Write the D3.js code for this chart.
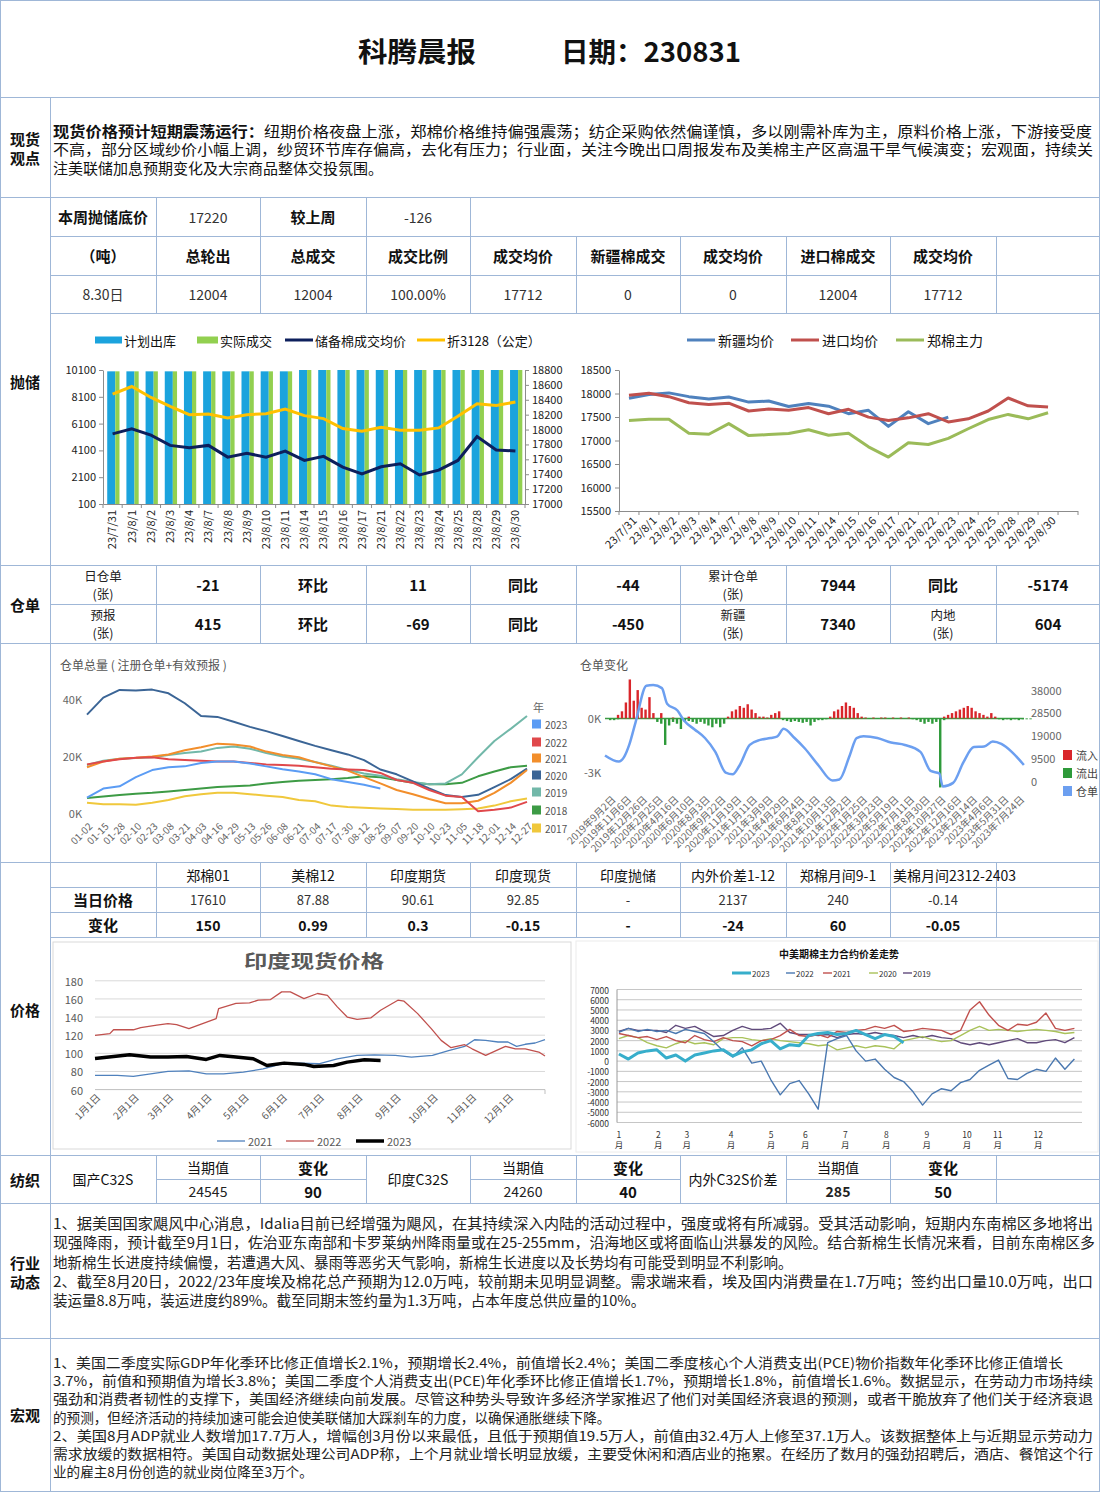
<!DOCTYPE html>
<html>
<head>
<meta charset="utf-8">
<title>科腾晨报 230831</title>
<script src="https://cdn.jsdelivr.net/npm/d3@7/dist/d3.min.js"></script>
<style>
  body { margin: 0; background: #fff; }
  svg text { font-family: "Noto Sans CJK SC", "Noto Sans", sans-serif; }
</style>
</head>
<body>
<script>
// ---------- data ----------
var reserveDates = ["23/7/31","23/8/1","23/8/2","23/8/3","23/8/4","23/8/7","23/8/8","23/8/9","23/8/10","23/8/11","23/8/14",
  "23/8/15","23/8/16","23/8/17","23/8/21","23/8/22","23/8/23","23/8/24","23/8/25","23/8/28","23/8/29","23/8/30"];
var planOut = [10000,10000,10000,10000,10000,10000,10000,10000,10000,10000,12000,12000,12000,12000,12000,12000,12000,12000,12000,12000,12000,12004];
var actualDeal = [10000,10000,10000,10000,10000,10000,10000,10000,10000,10000,12000,12000,12000,12000,12000,12000,12000,12000,12000,12000,12000,12004];
var reserveAvg = [17942,18009,17925,17787,17755,17787,17630,17680,17630,17710,17585,17640,17495,17405,17500,17540,17390,17455,17585,17905,17725,17712];
var zhe3128 = [18476,18578,18431,18311,18200,18209,18155,18200,18213,18275,18187,18147,18013,17978,18031,17991,17991,18022,18178,18347,18324,18369];

var xjAvg = [17897,17977,18013,17933,17882,17926,17817,17839,17722,17788,17730,17570,17642,17300,17613,17359,17497,null,null,null,null,null];
var importAvg = [17962,18006,17933,17802,17766,17795,17628,17671,17642,17700,17570,17664,17497,17424,17482,17570,17395,17461,17628,17904,17737,17715];
var zcMain = [17424,17453,17453,17155,17133,17359,17104,17126,17148,17228,17112,17155,16865,16647,16952,16916,17046,17250,17446,17555,17461,17591];

var whTicks = ["01-02","01-15","01-28","02-10","02-23","03-08","03-21","04-03","04-16","04-29","05-13","05-26","06-08","06-21",
  "07-04","07-17","07-30","08-12","08-25","09-07","09-20","10-10","10-23","11-05","11-18","12-01","12-14","12-27"];
var whYears = ["2023","2022","2021","2020","2019","2018","2017"];
var wh2023 = [5.3,8.5,9.3,12.5,15,16,16.3,17.5,18,18,17.3,16.3,15.3,14.5,13.5,11.8,10.8,9.8,8.5];
var wh2022 = [17,18,18.8,19.3,19.5,18.8,18.5,18.3,18,18,17.5,17,16.8,16.5,16,15.5,15.2,15,14,11.5,10.5,8,6,5.5,0.5,1,1.8,3.8];
var wh2021 = [16,18,19,19.3,19.8,20.5,22,23,24.3,24,23.3,21.5,20.3,19.5,17.8,16.3,14.8,12.5,10.3,8,6.5,4.8,3.3,3.3,4.2,7,10.5,15];
var wh2020 = [34.5,40.5,43.2,43,43.3,42,38.5,34,33.7,32,30.2,28.7,27,25.2,23.5,22,20.5,18.5,15.2,13.5,11,8.5,6.2,5.5,6.3,9,11.8,15.5];
var wh2019 = [16.8,18.3,19,19.2,19.5,20.3,21,21.5,22.8,23.3,22.5,21,19.8,19,17.8,16.5,15,13.8,13,11.8,10.8,10,10.3,13.5,19.5,25.2,29.5,34];
var wh2018 = [5.2,5.7,6.2,6.7,7,7.5,8,8.5,9,9.3,9.6,10.3,10.8,11.2,11.5,11.8,12.2,12.8,12.5,11.5,10.5,10,10,10.5,12.8,14.5,16,16.5];
var wh2017 = [3.5,3,3,2.8,3.5,4.5,5.8,6.5,7,7,6.5,6,5.5,4.5,4,2.5,2,1.7,1.5,1.3,1,1,1,1.2,1.5,2.5,4,5];

var chgLabels = ["2019年9月2日","2019年11月6日","2019年12月26日","2020年2月25日","2020年4月16日","2020年6月10日","2020年8月3日",
  "2020年9月22日","2020年11月19日","2021年1月11日","2021年3月9日","2021年4月29日","2021年6月24日","2021年8月13日",
  "2021年10月13日","2021年12月2日","2022年1月25日","2022年3月23日","2022年5月19日","2022年7月11日","2022年8月30日",
  "2022年10月27日","2022年12月16日","2023年2月14日","2023年4月6日","2023年5月31日","2023年7月24日"];
// daily flows sampled every quarter label step (K)
var flowIn = [0,0,0.2,0.4,0.9,2.2,1.0,1.6,0.6,0.5,1.2,0.3,
  0,0.3,0,0,0.05,0,0,0,0.1,0,0,0,
  0,0,0,0,0,0,0.1,0.4,0.5,0.7,0.6,0.8,
  0.5,0.3,0.1,0.1,0.05,0.2,0.3,0.4,0,0,0,0,
  0,0,0,0,0,0,0,0,0.1,0.4,0.5,0.7,
  0.9,0.7,0.6,0.3,0.1,0.05,0,0.05,0,0.05,0.05,0,
  0.05,0,0.05,0,0.05,0,0,0,0,0,0,0,
  0,0.1,0.2,0.3,0.4,0.5,0.6,0.7,0.6,0.4,0.3,0.2,
  0.1,0.3,0.1,0,0,0,0,0,0,0,0,0];
var flowOut = [-0.1,-0.1,-0.05,0,0,0,0,0,0,0,0,0,
  -0.2,-0.3,-1.5,-0.4,-0.2,-0.3,-0.6,-0.2,-0.15,-0.2,-0.3,-0.2,
  -0.3,-0.4,-0.5,-0.3,-0.5,-0.3,0,0,0,0,0,0,
  0,0,0,0,0,0,0,0,-0.1,-0.15,-0.2,-0.15,
  -0.2,-0.25,-0.2,-0.4,-0.2,-0.1,-0.1,-0.05,0,0,0,0,
  0,0,0,0,0,0,-0.03,0,-0.03,0,0,-0.03,
  0,-0.03,0,0,0,-0.05,-0.1,-0.2,-0.3,-0.2,-0.3,-0.2,
  -3.9,-0.1,0,0,0,0,0,0,0,0,0,0,
  0,0,0,-0.05,-0.1,-0.05,-0.1,-0.05,-0.1,-0.05,-0.05,-0.05];
var stockIdx = [-0.33,0.55,0.88,1.21,1.64,2.3,2.74,3.29,3.62,4.28,4.71,5.37,6.03,6.69,7.35,7.79,8.22,8.88,9.54,10.2,
  10.64,11.03,11.73,12.39,13.27,14.14,14.58,15.24,15.68,16.12,17.0,17.87,18.75,19.74,20.39,20.94,21.16,21.82,22.48,23.14,
  23.79,24.34,24.89,25.55,26.32];
var stockVal = [10500,7950,9800,14900,25000,39700,40000,38700,32200,29300,25000,21400,17800,12000,3300,2600,6200,14900,17000,17800,
  18500,21700,17800,13400,6200,0,400,10500,17800,18500,17800,15900,14900,12000,4000,3000,-2500,-1000,7700,14000,
  14200,16300,15300,12000,6500];

var indiaMonths = ["1月1日","2月1日","3月1日","4月1日","5月1日","6月1日","7月1日","8月1日","9月1日","10月1日","11月1日","12月1日"];
var india2021Dates = ["01-01","01-19","02-01","02-15","03-01","03-18","04-01","04-15","05-01","05-17","06-01","06-16","07-01","07-16",
  "08-01","08-15","09-01","09-14","10-01","10-14","10-27","11-04","11-13","11-23","12-01","12-08","12-15","12-23","12-31"];
var india2021 = [75.6,75.6,74.5,77.4,80,80.7,77.4,77.4,79.2,82.9,88.5,89.2,88.5,94,97.7,98.4,97.7,95.9,97.7,103,107.7,115,114.3,112.5,112.5,107.7,110,111.4,115];
var india2022Dates = ["01-01","01-13","01-16","02-01","02-07","02-20","03-01","03-08","03-18","03-29","04-09","04-11","04-25","05-06",
  "05-13","05-23","06-01","06-08","06-19","06-30","07-08","07-16","07-24","08-01","08-12","08-20","09-03","09-08","09-19","09-30",
  "10-08","10-16","10-27","11-02","11-13","11-29","12-07","12-15","12-26","12-31"];
var india2022 = [119.8,121.7,126,126,128.3,131,132.8,131.7,127.2,132.8,138.3,149.4,155,155.6,158.6,159.3,167.8,167.8,160.4,166,
  164,151.2,140,137.5,139,147.5,158.6,157.5,143.8,127.2,114.3,106.2,109.5,105,97.7,107.7,105,105,101.4,97];
var india2023Dates = ["01-01","01-16","01-29","02-15","03-01","03-16","04-01","04-12","04-25","05-09","05-20","06-03","06-19","06-27",
  "07-13","07-24","08-07","08-20"];
var india2023 = [94.4,96.6,98.5,95.9,95.9,96.6,93.3,97.7,95.9,94,86.6,89.2,87.8,85.5,86.6,90.3,92.9,92.2];

// China-US spread, one value every 5 trading days
var spreadStep = 5;
var spreadMonthPos = [0,20.8,35.8,59.1,80.2,98.2,119.3,140.9,162.2,183.4,199.6,220.9];
var spreadYears = ["2023","2022","2021","2020","2019"];
var spread2023 = [700,200,800,1000,1100,300,600,0,600,800,1000,1100,500,900,1100,1700,2000,1200,1600,1500,2500,2700,2800,2600,2700,3000,2600,2200,2600,2400,1800];
var spread2022 = [2800,3200,2900,3100,2900,3000,2700,3100,2900,2700,1900,1000,400,1300,-200,0,-1800,-3300,-2200,-1900,
  -3200,-4700,1800,2200,2500,1000,0,200,-800,-1600,-2000,-3000,-4300,-3200,-2700,-2900,-2100,-1800,-900,-400,
  100,-1700,-1800,-1200,-800,-1000,300,-800,200];
var spread2021 = [2700,2500,2300,2400,2100,2400,2000,1800,2500,2100,1900,2300,2000,1900,1500,2000,2100,2500,3100,2500,
  2400,2600,2300,2900,2800,3000,3100,3400,3200,3500,2900,3000,3200,3100,3000,2600,3000,5000,5800,4500,
  3500,3000,3600,3500,3800,4700,3200,3000,3200];
var spread2020 = [2200,2500,2300,1800,1500,1300,1700,2000,1700,1800,1600,2200,2300,2300,2100,2000,2200,2000,1900,1800,
  1700,1500,1600,1100,1300,1500,1300,1500,1400,1200,2000,2200,2400,2100,1900,2000,2500,3000,3400,3000,
  3100,3000,2900,3000,3100,3000,2900,2700,2800];
var spread2019 = [2900,3200,3000,3000,3000,2800,3500,3200,3400,2900,2400,2500,3000,3400,3100,3100,3200,3700,2800,2600,
  2600,2500,2600,2300,2600,2700,2600,2800,2600,2500,2300,2500,2300,2500,2300,2200,1800,1600,1800,1600,
  1800,2000,2200,1800,1800,2000,2100,1800,2300];

// table contents
var reserveHead = ["本周抛储底价","17220","较上周","-126"];
var reserveCols = ["（吨）","总轮出","总成交","成交比例","成交均价","新疆棉成交","成交均价","进口棉成交","成交均价"];
var reserveRow = ["8.30日","12004","12004","100.00%","17712","0","0","12004","17712"];
var whRow1 = ["日仓单\n(张)","-21","环比","11","同比","-44","累计仓单\n(张)","7944","同比","-5174"];
var whRow2 = ["预报\n(张)","415","环比","-69","同比","-450","新疆\n(张)","7340","内地\n(张)","604"];
var priceHead = ["","郑棉01","美棉12","印度期货","印度现货","印度抛储","内外价差1-12","郑棉月间9-1","美棉月间2312-2403"];
var priceToday = ["当日价格","17610","87.88","90.61","92.85","-","2137","240","-0.14"];
var priceChange = ["变化","150","0.99","0.3","-0.15","-","-24","60","-0.05"];
var yarnNames = ["国产C32S","印度C32S","内外C32S价差"];
var yarnValues = ["24545","24260","285"];
var yarnChanges = ["90","40","50"];

var viewLines = [
  "纽期价格夜盘上涨，郑棉价格维持偏强震荡；纺企采购依然偏谨慎，多以刚需补库为主，原料价格上涨，下游接受度",
  "不高，部分区域纱价小幅上调，纱贸环节库存偏高，去化有压力；行业面，关注今晚出口周报发布及美棉主产区高温干旱气候演变；宏观面，持续关",
  "注美联储加息预期变化及大宗商品整体交投氛围。"];
var industryLines = [
  "1、据美国国家飓风中心消息，Idalia目前已经增强为飓风，在其持续深入内陆的活动过程中，强度或将有所减弱。受其活动影响，短期内东南棉区多地将出",
  "现强降雨，预计截至9月1日，佐治亚东南部和卡罗莱纳州降雨量或在25-255mm，沿海地区或将面临山洪暴发的风险。结合新棉生长情况来看，目前东南棉区多",
  "地新棉生长进度持续偏慢，若遭遇大风、暴雨等恶劣天气影响，新棉生长进度以及长势均有可能受到明显不利影响。",
  "2、截至8月20日，2022/23年度埃及棉花总产预期为12.0万吨，较前期未见明显调整。需求端来看，埃及国内消费量在1.7万吨；签约出口量10.0万吨，出口",
  "装运量8.8万吨，装运进度约89%。截至同期末签约量为1.3万吨，占本年度总供应量的10%。"];
var macroLines = [
  "1、美国二季度实际GDP年化季环比修正值增长2.1%，预期增长2.4%，前值增长2.4%；美国二季度核心个人消费支出(PCE)物价指数年化季环比修正值增长",
  "3.7%，前值和预期值为增长3.8%；美国二季度个人消费支出(PCE)年化季环比修正值增长1.7%，预期增长1.8%，前值增长1.6%。数据显示，在劳动力市场持续",
  "强劲和消费者韧性的支撑下，美国经济继续向前发展。尽管这种势头导致许多经济学家推迟了他们对美国经济衰退的预测，或者干脆放弃了他们关于经济衰退",
  "的预测，但经济活动的持续加速可能会迫使美联储加大踩刹车的力度，以确保通胀继续下降。",
  "2、美国8月ADP就业人数增加17.7万人，增幅创3月份以来最低，且低于预期值19.5万人，前值由32.4万人上修至37.1万人。该数据整体上与近期显示劳动力",
  "需求放缓的数据相符。美国自动数据处理公司ADP称，上个月就业增长明显放缓，主要受休闲和酒店业的拖累。在经历了数月的强劲招聘后，酒店、餐馆这个行",
  "业的雇主8月份创造的就业岗位降至3万个。"];

// ---------- page ----------
var svg = d3.select("body").append("svg").attr("width", 1101).attr("height", 1492);
var LINE = "#9fb7d7";
var cols = [50,156,260,366,470,576,680,786,890,996,1100];
var plain = d3.format("d");

function txt(g, x, y, s, o) {
  o = o || {};
  var t = g.append("text").attr("x", x).attr("y", y).text(s)
    .attr("font-size", o.size || 14)
    .attr("font-weight", o.bold ? "bold" : "normal")
    .attr("fill", o.fill || "#111")
    .attr("text-anchor", o.anchor || "start")
    .attr("dominant-baseline", "central");
  if (o.len) t.attr("textLength", o.len).attr("lengthAdjust", "spacingAndGlyphs");
  return t;
}
function hline(x1, x2, y) {
  svg.append("line").attr("x1", x1).attr("x2", x2).attr("y1", y + 0.5).attr("y2", y + 0.5).attr("stroke", LINE);
}
function vline(x, y1, y2) {
  svg.append("line").attr("x1", x + 0.5).attr("x2", x + 0.5).attr("y1", y1).attr("y2", y2).attr("stroke", LINE);
}
function cell(i, y1, y2, s, o) {
  o = o || {};
  var x = (cols[i] + cols[i + 1]) / 2;
  var parts = String(s).split("\n");
  var lh = o.lh || 17;
  var y0 = (y1 + y2) / 2 - (parts.length - 1) * lh / 2;
  parts.forEach(function(p, k) {
    txt(svg, x, y0 + k * lh, p, Object.assign({anchor: "middle"}, o));
  });
}

// frame
svg.append("rect").attr("x", 0.5).attr("y", 0.5).attr("width", 1099).attr("height", 1491)
  .attr("fill", "none").attr("stroke", LINE);
[97,197,565,643,862,1155,1203,1338].forEach(function(y){ hline(0, 1100, y); });
vline(50, 97, 1492);
hline(50, 1100, 236); hline(50, 1100, 275); hline(50, 1100, 313);
[1,2,3,4].forEach(function(i){ vline(cols[i], 197, 236); });
d3.range(1, 10).forEach(function(i){ vline(cols[i], 236, 313); });
hline(50, 1100, 604);
d3.range(1, 10).forEach(function(i){ vline(cols[i], 565, 643); });
hline(50, 1100, 887); hline(50, 1100, 912); hline(50, 1100, 937);
d3.range(1, 10).forEach(function(i){ vline(cols[i], 862, 937); });
hline(156, 366, 1179); hline(470, 680, 1179); hline(786, 1100, 1179);
d3.range(1, 10).forEach(function(i){ vline(cols[i], 1155, 1203); });

// title
txt(svg, 358, 50, "科腾晨报", {size: 27, bold: true, len: 118, fill: "#111"});
txt(svg, 561, 50, "日期：230831", {size: 27, bold: true, len: 180, fill: "#111"});

// left labels
var leftLabels = [["现货", 138], ["观点", 157], ["抛储", 381], ["仓单", 604], ["价格", 1009],
  ["纺织", 1179], ["行业", 1262], ["动态", 1281], ["宏观", 1414]];
leftLabels.forEach(function(d){ txt(svg, 25, d[1], d[0], {size: 15, bold: true, anchor: "middle"}); });

// 现货观点
var v1 = txt(svg, 53, 130, "", {size: 15, len: 1039});
v1.append("tspan").attr("font-weight", "bold").text("现货价格预计短期震荡运行：");
v1.append("tspan").text(viewLines[0]);
txt(svg, 53, 148.5, viewLines[1], {size: 15, len: 1040});
txt(svg, 53, 167, viewLines[2], {size: 15});

// 抛储 table
reserveHead.forEach(function(s, i){ cell(i, 197, 236, s, {bold: i % 2 === 0, size: i % 2 === 0 ? 15 : 14, fill: i % 2 === 0 ? "#111" : "#333"}); });
reserveCols.forEach(function(s, i){ cell(i, 236, 275, s, {bold: true, size: 15}); });
reserveRow.forEach(function(s, i){ cell(i, 275, 313, s, {size: 14, fill: "#333"}); });

// 仓单 table
var whBold1 = [false,true,true,true,true,true,false,true,true,true];
var whBold2 = [false,true,true,true,true,true,false,true,false,true];
function whCell(row, y1, y2, bold) {
  row.forEach(function(s, i){
    var two = s.indexOf("\n") >= 0;
    cell(i, y1, y2, s, {bold: bold[i], size: two ? 12.5 : 15, lh: 18, fill: two ? "#222" : "#111"});
  });
}
whCell(whRow1, 565, 604, whBold1);
whCell(whRow2, 604, 643, whBold2);

// 价格 table
priceHead.forEach(function(s, i){
  if (i === 8) txt(svg, 893, 875, s, {size: 14});
  else cell(i, 862, 887, s, {size: 14});
});
priceToday.forEach(function(s, i){ cell(i, 887, 912, s, {bold: i === 0, size: i === 0 ? 15 : 13, fill: i === 0 ? "#111" : "#333"}); });
priceChange.forEach(function(s, i){ cell(i, 912, 937, s, {bold: true, size: i === 0 ? 15 : 14}); });

// 纺织 table
yarnNames.forEach(function(s, k){
  cell(k * 3, 1155, 1203, s, {size: 14});
  cell(k * 3 + 1, 1155, 1179, "当期值", {size: 14});
  cell(k * 3 + 2, 1155, 1179, "变化", {size: 15, bold: true});
  cell(k * 3 + 1, 1179, 1203, yarnValues[k], {size: 14, bold: k === 2, fill: "#222"});
  cell(k * 3 + 2, 1179, 1203, yarnChanges[k], {size: 15, bold: true});
});

// paragraphs
var indY = [1222, 1241, 1261, 1280, 1299];
var indFull = [1040, 1042, 0, 1040, 0];
industryLines.forEach(function(s, i){ txt(svg, 53, indY[i], s, {size: 14.5, len: indFull[i] || null, fill: "#222"}); });
var macY = [1362, 1380.2, 1398.4, 1416.6, 1434.8, 1453, 1471.2];
var macFull = [1010, 1040, 1040, 0, 1040, 1040, 0];
macroLines.forEach(function(s, i){ txt(svg, 53, macY[i], s, {size: 13.6, len: macFull[i] || null, fill: "#222"}); });

function styleAxis(a, size, color, stroke) {
  a.selectAll("path.domain").attr("stroke", stroke || "#8c8c8c");
  a.selectAll(".tick line").attr("stroke", stroke || "#8c8c8c");
  a.selectAll("text").attr("font-size", size).attr("fill", color);
}

// ---------- chart 1: 抛储 ----------
(function(){
  var g = svg.append("g");
  var x = d3.scaleBand().domain(reserveDates).range([103, 525]);
  var yL = d3.scaleLinear().domain([100, 10100]).range([504, 370]);
  var yR = d3.scaleLinear().domain([17000, 18800]).range([504, 370]);
  var bw = x.bandwidth();
  function top(v){ return yL(Math.min(v, 10100)); }
  g.selectAll(".plan").data(planOut).enter().append("rect")
    .attr("x", function(d, i){ return x(reserveDates[i]) + bw * 0.22; })
    .attr("width", bw * 0.42)
    .attr("y", top).attr("height", function(d){ return yL(100) - top(d); })
    .attr("fill", "#1ba3dd");
  g.selectAll(".deal").data(actualDeal).enter().append("rect")
    .attr("x", function(d, i){ return x(reserveDates[i]) + bw * 0.64; })
    .attr("width", bw * 0.22)
    .attr("y", top).attr("height", function(d){ return yL(100) - top(d); })
    .attr("fill", "#92d050");
  var cx = function(d, i){ return x(reserveDates[i]) + bw / 2; };
  g.append("path").datum(reserveAvg).attr("fill", "none").attr("stroke", "#0d1f5c").attr("stroke-width", 3)
    .attr("d", d3.line().x(cx).y(function(d){ return yR(d); }));
  g.append("path").datum(zhe3128).attr("fill", "none").attr("stroke", "#ffc000").attr("stroke-width", 3)
    .attr("d", d3.line().x(cx).y(function(d){ return yR(d); }));

  var aL = g.append("g").attr("transform", "translate(103,0)")
    .call(d3.axisLeft(yL).tickValues([100,2100,4100,6100,8100,10100]).tickFormat(plain).tickSize(4).tickSizeOuter(0).tickPadding(3));
  styleAxis(aL, 11, "#222");
  var aR = g.append("g").attr("transform", "translate(525,0)")
    .call(d3.axisRight(yR).tickValues(d3.range(17000, 18801, 200)).tickFormat(plain).tickSize(4).tickSizeOuter(0).tickPadding(3));
  styleAxis(aR, 11, "#222");
  var aB = g.append("g").attr("transform", "translate(0,504)")
    .call(d3.axisBottom(x).tickSize(0).tickSizeOuter(0));
  styleAxis(aB, 11, "#222");
  aB.selectAll("text").attr("transform", "rotate(-90)").attr("x", -6).attr("y", 0).attr("dy", "0.35em")
    .style("text-anchor", "end");
  g.selectAll(".bt").data(d3.range(reserveDates.length + 1)).enter().append("line")
    .attr("x1", function(i){ return 103 + i * x.step(); }).attr("x2", function(i){ return 103 + i * x.step(); })
    .attr("y1", 504).attr("y2", 508).attr("stroke", "#8c8c8c");

  // legend
  g.append("rect").attr("x", 95).attr("y", 336.5).attr("width", 27).attr("height", 7).attr("fill", "#1ba3dd");
  txt(g, 124, 340, "计划出库", {size: 13});
  g.append("rect").attr("x", 197).attr("y", 336.5).attr("width", 21).attr("height", 7).attr("fill", "#92d050");
  txt(g, 220, 340, "实际成交", {size: 13});
  g.append("line").attr("x1", 285).attr("x2", 313).attr("y1", 340).attr("y2", 340).attr("stroke", "#0d1f5c").attr("stroke-width", 3);
  txt(g, 315, 340, "储备棉成交均价", {size: 13});
  g.append("line").attr("x1", 417).attr("x2", 445).attr("y1", 340).attr("y2", 340).attr("stroke", "#ffc000").attr("stroke-width", 3);
  txt(g, 447, 340, "折3128（公定）", {size: 13});
})();

// ---------- chart 2: 现货价格 ----------
(function(){
  var g = svg.append("g");
  var x = d3.scaleBand().domain(d3.range(reserveDates.length + 1)).range([619, 1078]);
  var y = d3.scaleLinear().domain([15500, 18500]).range([511, 370]);
  var cx = function(d, i){ return x(i) + x.bandwidth() / 2; };
  var series = [[xjAvg, "#4f81bd"], [importAvg, "#c0504d"], [zcMain, "#9bbb59"]];
  series.forEach(function(s){
    g.append("path").datum(s[0]).attr("fill", "none").attr("stroke", s[1]).attr("stroke-width", 3)
      .attr("stroke-linejoin", "round")
      .attr("d", d3.line().defined(function(d){ return d !== null; }).x(cx).y(function(d){ return y(d); }));
  });
  var aL = g.append("g").attr("transform", "translate(619,0)")
    .call(d3.axisLeft(y).tickValues(d3.range(15500, 18501, 500)).tickFormat(plain).tickSize(4).tickSizeOuter(0).tickPadding(4));
  styleAxis(aL, 11, "#222");
  g.append("line").attr("x1", 619).attr("x2", 1078).attr("y1", 511.5).attr("y2", 511.5).attr("stroke", "#8c8c8c");
  g.selectAll(".bt").data(d3.range(reserveDates.length + 2)).enter().append("line")
    .attr("x1", function(i){ return 619 + i * x.step(); }).attr("x2", function(i){ return 619 + i * x.step(); })
    .attr("y1", 511).attr("y2", 515).attr("stroke", "#8c8c8c");
  g.selectAll(".xl").data(reserveDates).enter().append("text")
    .attr("transform", function(d, i){ return "translate(" + (cx(d, i) + 5) + ",518) rotate(-45)"; })
    .attr("text-anchor", "end").attr("dominant-baseline", "central")
    .attr("font-size", 11).attr("fill", "#222").text(function(d){ return d; });
  var leg = [["新疆均价", "#4f81bd", 687], ["进口均价", "#c0504d", 791], ["郑棉主力", "#9bbb59", 896]];
  leg.forEach(function(l){
    g.append("line").attr("x1", l[2]).attr("x2", l[2] + 28).attr("y1", 340).attr("y2", 340)
      .attr("stroke", l[1]).attr("stroke-width", 3);
    txt(g, l[2] + 31, 340, l[0], {size: 14});
  });
})();

// ---------- chart 3: 仓单总量 ----------
(function(){
  var g = svg.append("g");
  var x = d3.scaleLinear().domain([0, whTicks.length - 1]).range([87, 527]);
  var y = d3.scaleLinear().domain([0, 40]).range([812.7, 699]);
  txt(g, 60, 664, "仓单总量 ( 注册仓单+有效预报 )", {size: 12, fill: "#555"});
  [0, 20, 40].forEach(function(v){ txt(g, 82, y(v), v + "K", {size: 11, fill: "#666", anchor: "end"}); });
  g.selectAll(".xl").data(whTicks).enter().append("text")
    .attr("transform", function(d, i){ return "translate(" + (x(i) + 3) + ",824) rotate(-45)"; })
    .attr("text-anchor", "end").attr("dominant-baseline", "central")
    .attr("font-size", 10).attr("fill", "#666").text(function(d){ return d; });
  var colors = ["#5b9cf4", "#e0484b", "#f28e2b", "#3b6596", "#72b8a9", "#3d9b45", "#f0c83c"];
  var data = [wh2023, wh2022, wh2021, wh2020, wh2019, wh2018, wh2017];
  var line = d3.line().x(function(d, i){ return x(i); }).y(function(d){ return y(d); });
  for (var k = data.length - 1; k >= 0; k--) {
    g.append("path").datum(data[k]).attr("fill", "none").attr("stroke", colors[k]).attr("stroke-width", 2)
      .attr("stroke-linejoin", "round").attr("d", line);
  }
  txt(g, 533, 707, "年", {size: 11, fill: "#666"});
  var ly = [724, 742, 758, 775, 792, 810, 828];
  whYears.forEach(function(yr, k){
    g.append("rect").attr("x", 532).attr("y", ly[k] - 4.5).attr("width", 9).attr("height", 9).attr("fill", colors[k]);
    txt(g, 545, ly[k], yr, {size: 10, fill: "#555"});
  });
})();

// ---------- chart 4: 仓单变化 ----------
(function(){
  var g = svg.append("g");
  var x = d3.scaleLinear().domain([-0.33, 26.33]).range([605, 1024]);
  var yL = d3.scaleLinear().domain([-3, 0]).range([771.5, 718.4]);
  var yR = d3.scaleLinear().domain([0, 38000]).range([780.5, 689.8]);
  txt(g, 580, 664, "仓单变化", {size: 12, fill: "#555"});
  [0, -3].forEach(function(v){ txt(g, 601, yL(v), v + "K", {size: 11, fill: "#666", anchor: "end"}); });
  [0, 9500, 19000, 28500, 38000].forEach(function(v){ txt(g, 1031, yR(v), v, {size: 11, fill: "#666"}); });
  g.selectAll(".xl").data(chgLabels).enter().append("text")
    .attr("transform", function(d, i){ return "translate(" + (x(i) + 3) + ",797) rotate(-45)"; })
    .attr("text-anchor", "end").attr("dominant-baseline", "central")
    .attr("font-size", 10).attr("fill", "#666").text(function(d){ return d; });
  g.append("line").attr("x1", 605).attr("x2", 1024).attr("y1", yL(0)).attr("y2", yL(0)).attr("stroke", "#3d9b45").attr("stroke-width", 1.5);
  g.selectAll(".in").data(flowIn).enter().append("rect")
    .attr("x", function(d, k){ return x(k / 4) - 1.2; }).attr("width", 2.4)
    .attr("y", function(d){ return yL(d); }).attr("height", function(d){ return yL(0) - yL(d); })
    .attr("fill", "#d9262b");
  g.selectAll(".out").data(flowOut).enter().append("rect")
    .attr("x", function(d, k){ return x(k / 4) - 1.2; }).attr("width", 2.4)
    .attr("y", yL(0)).attr("height", function(d){ return yL(d) - yL(0); })
    .attr("fill", "#2e9a3a");
  g.append("path").datum(stockVal).attr("fill", "none").attr("stroke", "#6c9ff0").attr("stroke-width", 2.5)
    .attr("stroke-linejoin", "round")
    .attr("d", d3.line().curve(d3.curveMonotoneX).x(function(d, i){ return x(stockIdx[i]); }).y(function(d){ return yR(d); }));
  var leg = [["流入", "#d9262b", 755], ["流出", "#2e9a3a", 773], ["仓单", "#6c9ff0", 791]];
  leg.forEach(function(l){
    g.append("rect").attr("x", 1063).attr("y", l[2] - 5).attr("width", 9).attr("height", 10).attr("fill", l[1]);
    txt(g, 1076, l[2], l[0], {size: 11, fill: "#444"});
  });
})();

// ---------- chart 5: 印度现货价格 ----------
(function(){
  var g = svg.append("g");
  var parse = d3.timeParse("%Y-%m-%d");
  var day = function(s){ return parse("2021-" + s); };
  g.append("rect").attr("x", 53).attr("y", 942).attr("width", 518).attr("height", 207)
    .attr("fill", "#fff").attr("stroke", "#d9d9d9");
  var x = d3.scaleTime().domain([day("01-01"), day("12-31")]).range([95, 545]);
  var y = d3.scaleLinear().domain([60, 180]).range([1089.6, 980.8]);
  txt(g, 314, 960, "印度现货价格", {size: 18, bold: true, fill: "#595959", anchor: "middle", len: 140});
  d3.range(60, 181, 20).forEach(function(v){
    g.append("line").attr("x1", 95).attr("x2", 545).attr("y1", y(v)).attr("y2", y(v))
      .attr("stroke", v === 60 ? "#bfbfbf" : "#d9d9d9");
    txt(g, 83, y(v), v, {size: 11, fill: "#595959", anchor: "end"});
  });
  g.append("line").attr("x1", 545).attr("x2", 545).attr("y1", 1089.6).attr("y2", 1094).attr("stroke", "#bfbfbf");
  g.selectAll(".xl").data(indiaMonths).enter().append("text")
    .attr("transform", function(d, i){ return "translate(" + (x(new Date(2021, i, 1)) + 3) + ",1095) rotate(-45)"; })
    .attr("text-anchor", "end").attr("dominant-baseline", "central")
    .attr("font-size", 10).attr("fill", "#595959").text(function(d){ return d; });
  var sets = [[india2021Dates, india2021, "#4f81bd", 1.3], [india2022Dates, india2022, "#c0504d", 1.3], [india2023Dates, india2023, "#000", 3.5]];
  sets.forEach(function(s){
    g.append("path").datum(s[1]).attr("fill", "none").attr("stroke", s[2]).attr("stroke-width", s[3])
      .attr("stroke-linejoin", "round")
      .attr("d", d3.line().x(function(d, i){ return x(day(s[0][i])); }).y(function(d){ return y(d); }));
  });
  var leg = [["2021", "#4f81bd", 217, 1.3], ["2022", "#c0504d", 286, 1.3], ["2023", "#000", 356, 3.5]];
  leg.forEach(function(l){
    g.append("line").attr("x1", l[2]).attr("x2", l[2] + 28).attr("y1", 1141).attr("y2", 1141)
      .attr("stroke", l[1]).attr("stroke-width", l[3]);
    txt(g, l[2] + 31, 1141, l[0], {size: 11, fill: "#595959"});
  });
})();

// ---------- chart 6: 中美期棉主力合约价差走势 ----------
(function(){
  var g = svg.append("g");
  g.append("rect").attr("x", 576).attr("y", 941).attr("width", 522).attr("height", 211)
    .attr("fill", "#fff").attr("stroke", "#ececec");
  var x = d3.scaleLinear().domain([-1, 244]).range([617, 1082]);
  var y = d3.scaleLinear().domain([-6000, 7000]).range([1122.5, 989.5]);
  txt(g, 839, 953, "中美期棉主力合约价差走势", {size: 10, bold: true, anchor: "middle"});
  d3.range(-6000, 7001, 1000).forEach(function(v){
    g.append("line").attr("x1", 617).attr("x2", 1082).attr("y1", y(v)).attr("y2", y(v)).attr("stroke", "#c6c6c6");
    txt(g, 609, y(v), v, {size: 8.5, fill: "#333", anchor: "end"});
  });
  g.append("line").attr("x1", 617).attr("x2", 617).attr("y1", y(7000)).attr("y2", y(-6000)).attr("stroke", "#9a9a9a");
  spreadMonthPos.forEach(function(p, i){
    txt(g, x(p), 1133.5, String(i + 1), {size: 8.5, anchor: "middle", fill: "#333"});
    txt(g, x(p), 1144, "月", {size: 8.5, anchor: "middle", fill: "#333"});
  });
  var colors = ["#37aecb", "#4a78b0", "#c0504d", "#a9c25a", "#604a7b"];
  var data = [spread2023, spread2022, spread2021, spread2020, spread2019];
  var widths = [3, 1.4, 1.4, 1.4, 1.4];
  var line = d3.line().x(function(d, i){ return x(i * spreadStep); }).y(function(d){ return y(d); });
  for (var k = data.length - 1; k >= 0; k--) {
    g.append("path").datum(data[k]).attr("fill", "none").attr("stroke", colors[k]).attr("stroke-width", widths[k])
      .attr("stroke-linejoin", "round").attr("d", line);
  }
  var lx = [732, 786, 823, 869, 903];
  spreadYears.forEach(function(yr, k){
    g.append("line").attr("x1", lx[k]).attr("x2", lx[k] + (k === 0 ? 19 : 9)).attr("y1", 973).attr("y2", 973)
      .attr("stroke", colors[k]).attr("stroke-width", widths[k]);
    txt(g, lx[k] + (k === 0 ? 20 : 10), 973, yr, {size: 8, fill: "#333"});
  });
})();
</script>
</body>
</html>
